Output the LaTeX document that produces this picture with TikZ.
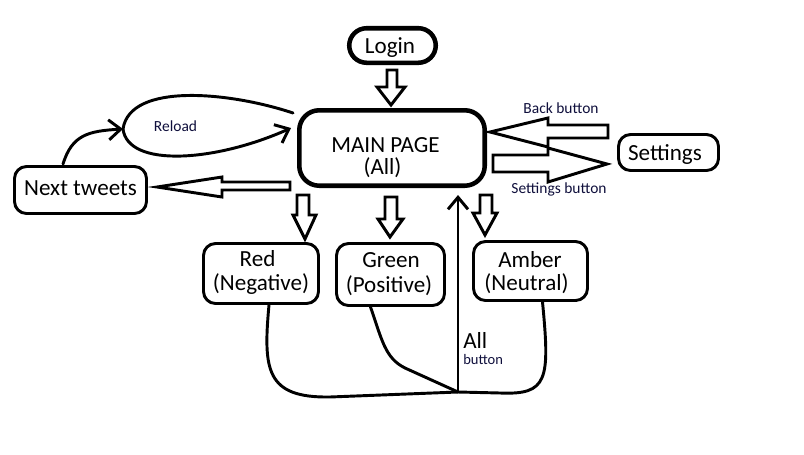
\documentclass[tikz,border=0pt]{standalone}
\usepackage{fontspec}
\setmainfont{Carlito}
\usetikzlibrary{arrows.meta}
\definecolor{labelnavy}{RGB}{15,15,60}
\begin{document}
\begin{tikzpicture}[x=0.75pt,y=-0.75pt,
  thickbox/.style={draw, line width=3.4pt, rounded corners=13pt, inner sep=0pt},
  thinbox/.style={draw, line width=2.2pt, rounded corners=9pt, inner sep=0pt},
  bigtext/.style={font=\fontsize{17.3}{20}\selectfont, anchor=base, inner sep=0pt},
  smalltext/.style={font=\fontsize{11.6}{14}\selectfont, anchor=base, inner sep=0pt, text=labelnavy},
  hollow/.style={draw, line width=2.2pt, line join=miter},
  link/.style={draw, line width=2.2pt, line cap=round, line join=round},
  barb/.style={-{Straight Barb[length=9pt,width=15pt,line width=2.2pt]}}
]
\useasboundingbox (0,0) rectangle (804,454);
\fill[white] (0,0) rectangle (804,454);

% boxes
\node[thickbox, minimum width=64.9pt, minimum height=25.9pt] (login) at (392.5,45.5) {};
\node[thickbox, rounded corners=15pt, minimum width=139.1pt, minimum height=56.6pt] (main) at (392,148) {};
\node[thinbox, minimum width=99pt, minimum height=35.25pt] (next) at (80.5,190) {};
\node[thinbox, minimum width=75pt, minimum height=27pt] (settings) at (668.5,152.5) {};
\node[thinbox, minimum width=86.25pt, minimum height=45pt] (red) at (261,273.5) {};
\node[thinbox, minimum width=81pt, minimum height=46.5pt] (green) at (390.5,274.5) {};
\node[thinbox, minimum width=85.5pt, minimum height=44.25pt] (amber) at (530.5,271) {};

% texts
\node[bigtext] (logintxt) at (390,53) {Login};
\node[bigtext] (maintxt1) at (385.5,152) {MAIN PAGE};
\node[bigtext] (maintxt2) at (382.5,174) {(All)};
\node[bigtext] (nexttxt) at (80.5,195) {Next tweets};
\node[bigtext] (settingstxt) at (665,160) {Settings};
\node[bigtext] (redtxt1) at (257.5,266) {Red};
\node[bigtext] (redtxt2) at (261,290) {(Negative)};
\node[bigtext] (greentxt1) at (391,267) {Green};
\node[bigtext] (greentxt2) at (389,292) {(Positive)};
\node[bigtext] (ambertxt1) at (530,267) {Amber};
\node[bigtext] (ambertxt2) at (526.5,290) {(Neutral)};
\node[smalltext] (reloadtxt) at (175.5,131) {Reload};
\node[smalltext] (backtxt) at (561,113) {Back button};
\node[smalltext] (setbtntxt) at (559,193) {Settings button};
\node[bigtext, anchor=base west] (alltxt) at (463,348) {All};
\node[smalltext, anchor=base west, font=\fontsize{10.9}{13}\selectfont] (buttontxt) at (463,364.5) {button};

% hollow block arrows
\draw[hollow] (387,70) -- (397,70) -- (397,87) -- (405,87) -- (391,105) -- (377,87) -- (387,87) -- cycle;
\draw[hollow] (290,182) -- (222,182) -- (222,177) -- (157,187) -- (222,197) -- (222,190) -- (290,190) -- cycle;
\draw[hollow] (608,125) -- (548,125) -- (548,118) -- (490,132) -- (548,147) -- (548,138) -- (608,138) -- cycle;
\draw[hollow] (493,155) -- (548,155) -- (548,148) -- (607,164) -- (548,182) -- (548,172) -- (493,172) -- cycle;
\draw[hollow] (297,195) -- (309,195) -- (309,215) -- (316,215) -- (305,239) -- (293,215) -- (297,215) -- cycle;
\draw[hollow] (385,197) -- (397,197) -- (397,219) -- (403,219) -- (390,237) -- (378,219) -- (385,219) -- cycle;
\draw[hollow] (480,195) -- (492,195) -- (492,213) -- (497,213) -- (485,235) -- (473,213) -- (480,213) -- cycle;

% reload loop
\coordinate (reloadstart) at (293,113);
\coordinate (reloadleft) at (123,129);
\coordinate (reloadend) at (291,128);
\coordinate (nexttop) at (63,164);
\draw[link] (reloadstart) .. controls (230,92) and (130,82) .. (reloadleft);
\draw[link, barb] (reloadleft) .. controls (128,168) and (215,162) .. (reloadend);
\draw[link, barb] (nexttop) .. controls (72,135) and (88,131) .. (reloadleft);

% all button
\coordinate (allbase) at (458,392);
\coordinate (alltip) at (458,195);
\draw[link, barb] (allbase) -- (alltip);
\draw[link] ([xshift=6pt]red.south) .. controls (263,370) and (266,398) .. (330,397) -- (allbase);
\draw[link] ([xshift=-15pt]green.south) .. controls (382,340) and (385,358) .. (405,368) -- (allbase);
\draw[link] ([xshift=9pt]amber.south) .. controls (550,380) and (548,395) .. (500,393) -- (allbase);
\end{tikzpicture}
\end{document}
